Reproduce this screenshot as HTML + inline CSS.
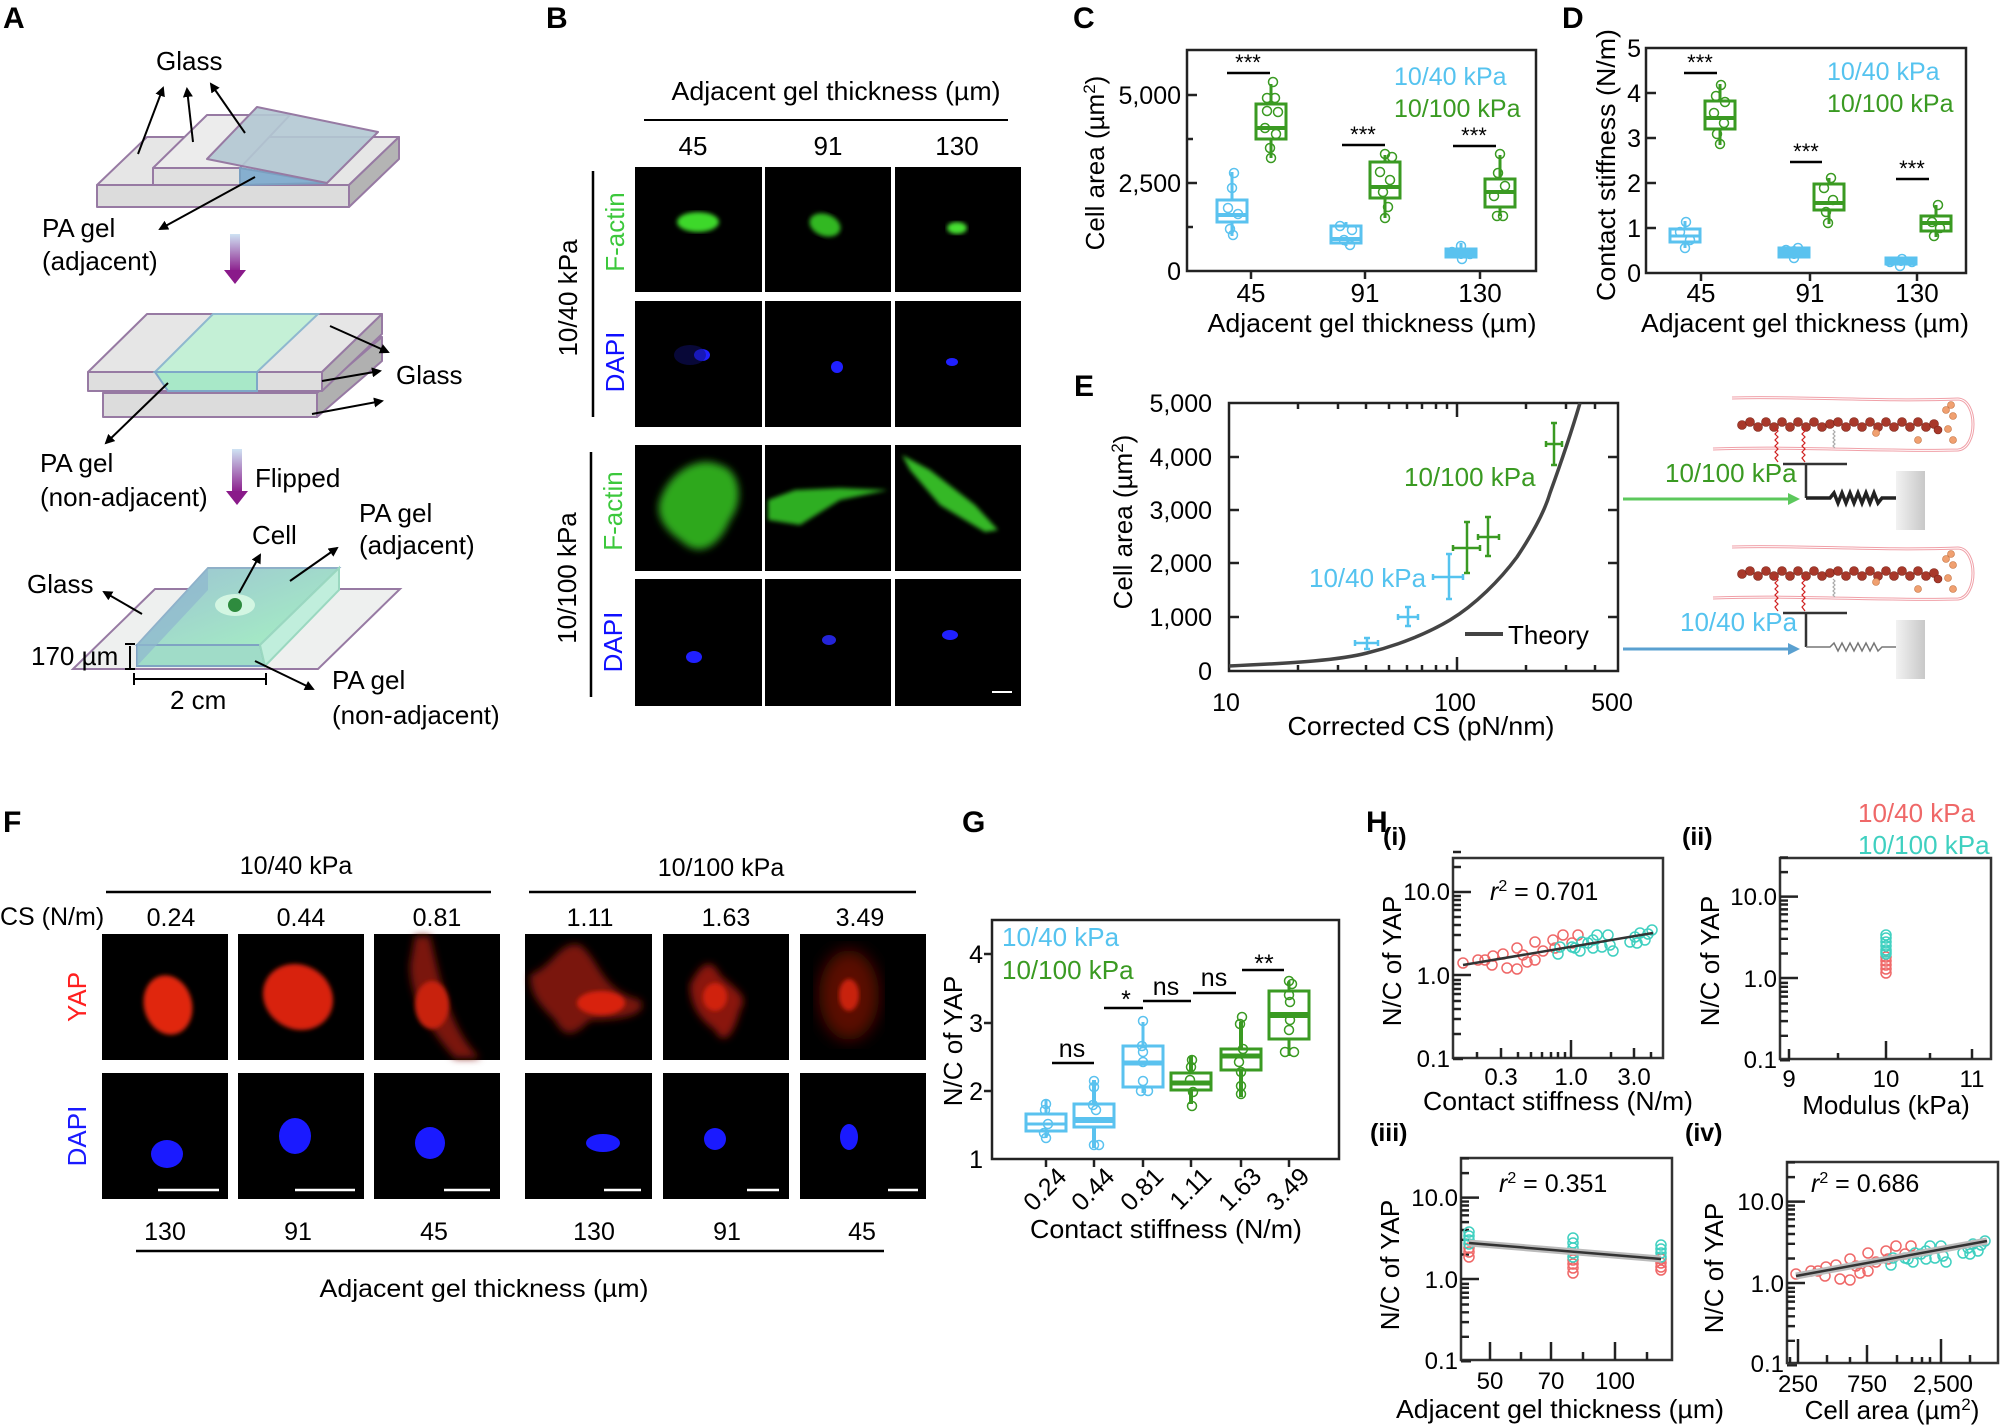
<!DOCTYPE html>
<html><head><meta charset="utf-8"><style>html,body{margin:0;padding:0;background:#fff}svg{display:block}</style></head>
<body>
<svg xmlns="http://www.w3.org/2000/svg" xmlns:xlink="http://www.w3.org/1999/xlink" width="2000" height="1427" viewBox="0 0 2000 1427" font-family="Liberation Sans, Arial, sans-serif">
<defs>
<marker id="ah" markerWidth="10" markerHeight="10" refX="8" refY="5" orient="auto" markerUnits="userSpaceOnUse"><path d="M0,0 L10,5 L0,10 z" fill="#000"/></marker>
<marker id="ahs" markerWidth="8" markerHeight="8" refX="7" refY="4" orient="auto" markerUnits="userSpaceOnUse"><path d="M0,0 L8,4 L0,8 z" fill="#000"/></marker>
<linearGradient id="pg" x1="0" y1="0" x2="0" y2="1"><stop offset="0" stop-color="#cfe3f3"/><stop offset="1" stop-color="#8a1a8a"/></linearGradient>
<linearGradient id="gel" x1="0" y1="0" x2="1" y2="1"><stop offset="0" stop-color="#9cc3d3"/><stop offset="1" stop-color="#a6f2c2"/></linearGradient>
<linearGradient id="wall" x1="0" y1="0" x2="1" y2="0"><stop offset="0" stop-color="#f2f2f2"/><stop offset="1" stop-color="#c8c8c8"/></linearGradient>
<filter id="b2"><feGaussianBlur stdDeviation="2"/></filter>
<filter id="b4"><feGaussianBlur stdDeviation="4"/></filter>
<filter id="b8"><feGaussianBlur stdDeviation="8"/></filter>
</defs>
<rect width="2000" height="1427" fill="#fff"/>

<!-- panel letters -->
<g font-weight="bold" font-size="30">
<text x="3" y="28">A</text><text x="546" y="28">B</text><text x="1073" y="28">C</text><text x="1562" y="28">D</text>
<text x="1074" y="396">E</text><text x="3" y="832">F</text><text x="962" y="832">G</text><text x="1366" y="832">H</text>
</g>

<!-- ============ A ============ -->
<g stroke="#977aa3" stroke-width="2" stroke-linejoin="round">
<polygon points="97,185 147,137 399,137 349,185" fill="#e6e6e6"/>
<polygon points="97,185 349,185 349,207 97,207" fill="#dcdcdc"/>
<polygon points="349,185 399,137 399,159 349,207" fill="#b4b4b4"/>
<polygon points="153,168 207,115 290,115 240,168" fill="#ececec"/>
<polygon points="153,168 240,168 240,185 153,185" fill="#e0e0e0"/>
<polygon points="240,168 327,183 240,185" fill="#86afcf" stroke="#7a9fc0"/>
<polygon points="207,159 257,107 378,132 327,183" fill="#b2c8d3" fill-opacity="0.9"/>
</g>
<g stroke="#000" stroke-width="2" fill="none" marker-end="url(#ah)">
<line x1="138" y1="154" x2="163" y2="88"/><line x1="193" y1="142" x2="187" y2="89"/><line x1="245" y1="133" x2="211" y2="84"/>
<line x1="255" y1="177" x2="160" y2="229"/>
</g>
<g font-size="26">
<text x="156" y="70">Glass</text>
<text x="42" y="237">PA gel</text><text x="42" y="270">(adjacent)</text>
</g>
<rect x="230" y="234" width="10" height="38" fill="url(#pg)"/><polygon points="224,270 246,270 235,284" fill="#8a1a8a"/>

<g stroke="#977aa3" stroke-width="2" stroke-linejoin="round">
<polygon points="103,393 163,337 382,337 317,393" fill="#e4e4e4"/>
<polygon points="103,393 317,393 317,417 103,417" fill="#dcdcdc"/>
<polygon points="317,393 382,337 382,361 317,417" fill="#b0b0b0"/>
<polygon points="88,372 147,314 382,314 322,372" fill="#e6e6e6"/>
<polygon points="88,372 322,372 322,391 88,391" fill="#dedede"/>
<polygon points="322,372 382,314 382,334 322,391" fill="#b4b4b4"/>
</g>
<polygon points="155,372 213,314 318,314 257,372" fill="#c4f0d6" stroke="#8fb8cf" stroke-width="2"/>
<polygon points="155,372 257,372 257,391 168,391" fill="#a8e8c8" stroke="#7fa8c8" stroke-width="2"/>
<g stroke="#000" stroke-width="2" fill="none" marker-end="url(#ah)">
<line x1="330" y1="326" x2="388" y2="352"/><line x1="322" y1="381" x2="380" y2="371"/><line x1="312" y1="414" x2="382" y2="401"/>
<line x1="168" y1="383" x2="106" y2="443"/>
</g>
<g font-size="26">
<text x="396" y="384">Glass</text>
<text x="40" y="472">PA gel</text><text x="40" y="506">(non-adjacent)</text>
<text x="255" y="487">Flipped</text>
</g>
<rect x="232" y="449" width="10" height="44" fill="url(#pg)"/><polygon points="226,491 248,491 237,505" fill="#8a1a8a"/>

<polygon points="73,669 155,589 400,589 318,669" fill="#eef0ef" stroke="#977aa3" stroke-width="2"/>
<polygon points="137,645 208,568 339,568 260,645" fill="url(#gel)" stroke="#8fb0c8" stroke-width="2"/>
<polygon points="137,645 260,645 265,666 137,666" fill="#a0dcc8" stroke="#7fa3c3" stroke-width="2"/>
<polygon points="260,645 339,568 339,590 265,666" fill="#c0eedc" stroke="#9ad8c0" stroke-width="2"/>
<polygon points="137,645 208,568 208,590 137,666" fill="#8fb7cf" opacity="0.7"/>
<ellipse cx="235" cy="605" rx="20" ry="11" fill="#d8f8e4" opacity="0.9"/>
<circle cx="235" cy="605" r="7" fill="#2e8b3e"/>
<g stroke="#000" stroke-width="2" fill="none">
<line x1="239" y1="593" x2="260" y2="555" marker-end="url(#ah)"/>
<line x1="290" y1="581" x2="337" y2="548" marker-end="url(#ah)"/>
<line x1="142" y1="614" x2="104" y2="592" marker-end="url(#ah)"/>
<line x1="255" y1="661" x2="313" y2="689" marker-end="url(#ah)"/>
<line x1="130" y1="646" x2="130" y2="668"/><line x1="125" y1="644" x2="135" y2="644"/><line x1="125" y1="669" x2="135" y2="669"/>
<line x1="134" y1="679" x2="266" y2="679"/><line x1="134" y1="673" x2="134" y2="685"/><line x1="266" y1="673" x2="266" y2="685"/>
</g>
<g font-size="26">
<text x="252" y="544">Cell</text>
<text x="359" y="522">PA gel</text><text x="359" y="554">(adjacent)</text>
<text x="27" y="593">Glass</text>
<text x="31" y="665">170 µm</text>
<text x="170" y="709">2 cm</text>
<text x="332" y="689">PA gel</text><text x="332" y="724">(non-adjacent)</text>
</g>

<!-- ============ B ============ -->
<text x="836" y="100" font-size="26" text-anchor="middle" textLength="329" lengthAdjust="spacingAndGlyphs">Adjacent gel thickness (µm)</text>
<line x1="644" y1="120" x2="1008" y2="120" stroke="#000" stroke-width="2"/>
<g font-size="26" text-anchor="middle"><text x="693" y="155">45</text><text x="828" y="155">91</text><text x="957" y="155">130</text></g>
<g fill="#000">
<rect x="635" y="167" width="127" height="125"/><rect x="765" y="167" width="126" height="125"/><rect x="895" y="167" width="126" height="125"/>
<rect x="635" y="301" width="127" height="126"/><rect x="765" y="301" width="126" height="126"/><rect x="895" y="301" width="126" height="126"/>
<rect x="635" y="445" width="127" height="126"/><rect x="765" y="445" width="126" height="126"/><rect x="895" y="445" width="126" height="126"/>
<rect x="635" y="579" width="127" height="127"/><rect x="765" y="579" width="126" height="127"/><rect x="895" y="579" width="126" height="127"/>
</g>
<ellipse cx="698" cy="222" rx="21" ry="10" fill="#3ed82a" filter="url(#b2)"/>
<ellipse cx="825" cy="225" rx="16" ry="11" fill="#32b824" filter="url(#b2)" transform="rotate(20 825 225)"/>
<ellipse cx="957" cy="228" rx="10" ry="6" fill="#46e030" filter="url(#b2)"/>
<ellipse cx="702" cy="355" rx="8" ry="6" fill="#2020ff"/><ellipse cx="690" cy="355" rx="16" ry="10" fill="#101070" opacity="0.5"/>
<ellipse cx="837" cy="367" rx="6" ry="6" fill="#2020ff"/><ellipse cx="952" cy="362" rx="6" ry="4" fill="#2020ff"/>
<path d="M660,500 C670,470 700,455 720,465 C740,470 745,500 730,520 C720,545 700,560 680,540 C665,530 655,515 660,500 z" fill="#2fa81e" filter="url(#b4)"/>
<path d="M768,500 L795,490 L840,488 L888,490 L840,500 L800,525 L768,520 z" fill="#2fae20" filter="url(#b2)"/>
<path d="M902,455 L930,470 L975,505 L998,530 L985,532 L940,505 L910,470 z" fill="#36b826" filter="url(#b2)"/>
<ellipse cx="694" cy="657" rx="8" ry="6" fill="#2020ff"/><ellipse cx="829" cy="640" rx="7" ry="5" fill="#2424d8"/><ellipse cx="950" cy="635" rx="8" ry="5" fill="#2020ff"/>
<line x1="992" y1="692" x2="1012" y2="692" stroke="#fff" stroke-width="2"/>
<line x1="593" y1="171" x2="593" y2="417" stroke="#000" stroke-width="2.5"/>
<line x1="591" y1="452" x2="591" y2="697" stroke="#000" stroke-width="2.5"/>
<g font-size="26" text-anchor="middle">
<text transform="translate(577,298) rotate(-90)" >10/40 kPa</text>
<text transform="translate(624,232) rotate(-90)" fill="#3cc83c">F-actin</text>
<text transform="translate(624,362) rotate(-90)" fill="#1010ff">DAPI</text>
<text transform="translate(576,578) rotate(-90)">10/100 kPa</text>
<text transform="translate(622,511) rotate(-90)" fill="#3cc83c">F-actin</text>
<text transform="translate(622,642) rotate(-90)" fill="#1010ff">DAPI</text>
</g>

<!-- ============ C ============ -->
<rect x="1187" y="50" width="349" height="221" fill="none" stroke="#222" stroke-width="2.5"/>
<g stroke="#222" stroke-width="2.5"><line x1="1187" y1="95" x2="1197" y2="95"/><line x1="1187" y1="139" x2="1193" y2="139"/><line x1="1187" y1="183" x2="1197" y2="183"/><line x1="1187" y1="227" x2="1193" y2="227"/>
<line x1="1251" y1="271" x2="1251" y2="279"/><line x1="1365" y1="271" x2="1365" y2="279"/><line x1="1480" y1="271" x2="1480" y2="279"/></g>
<g font-size="25" text-anchor="end"><text x="1181" y="104">5,000</text><text x="1181" y="192">2,500</text><text x="1181" y="280">0</text></g>
<g font-size="26" text-anchor="middle"><text x="1251" y="302">45</text><text x="1365" y="302">91</text><text x="1480" y="302">130</text>
<text x="1372" y="332" textLength="329" lengthAdjust="spacingAndGlyphs">Adjacent gel thickness (µm)</text>
<text transform="translate(1104,163) rotate(-90)">Cell area (µm<tspan font-size="17" dy="-9">2</tspan><tspan dy="9">)</tspan></text></g>
<g font-size="25"><text x="1394" y="85" fill="#55c3ef">10/40 kPa</text><text x="1394" y="117" fill="#3a9a22">10/100 kPa</text></g>
<g fill="none" stroke-width="3">
<g stroke="#5ac2ef"><line x1="1232" y1="172" x2="1232" y2="236"/><rect x="1217" y="200" width="30" height="22" fill="#fff"/><line x1="1217" y1="215" x2="1247" y2="215" stroke-width="4"/>
<line x1="1346" y1="222" x2="1346" y2="246"/><rect x="1331" y="226" width="30" height="17" fill="#fff"/><line x1="1331" y1="239" x2="1361" y2="239" stroke-width="4"/>
<line x1="1461" y1="243" x2="1461" y2="259"/><rect x="1446" y="249" width="30" height="8" fill="#5ac2ef"/></g>
<g stroke="#3a9a22"><line x1="1271" y1="84" x2="1271" y2="158"/><rect x="1256" y="104" width="30" height="35" fill="#fff"/><line x1="1256" y1="128" x2="1286" y2="128" stroke-width="4"/>
<line x1="1385" y1="155" x2="1385" y2="218"/><rect x="1370" y="162" width="30" height="36" fill="#fff"/><line x1="1370" y1="187" x2="1400" y2="187" stroke-width="4"/>
<line x1="1500" y1="155" x2="1500" y2="216"/><rect x="1485" y="179" width="30" height="28" fill="#fff"/><line x1="1485" y1="192" x2="1515" y2="192" stroke-width="4"/></g>
</g>
<g fill="none" stroke-width="1.5">
<g stroke="#5ac2ef"><circle cx="1234" cy="173" r="4.5"/><circle cx="1232" cy="188" r="4.5"/><circle cx="1228" cy="208" r="4.5"/><circle cx="1238" cy="214" r="4.5"/><circle cx="1230" cy="229" r="4.5"/><circle cx="1233" cy="235" r="4.5"/>
<circle cx="1340" cy="226" r="4.5"/><circle cx="1352" cy="230" r="4.5"/><circle cx="1344" cy="240" r="4.5"/><circle cx="1350" cy="245" r="4.5"/>
<circle cx="1452" cy="252" r="4.5"/><circle cx="1461" cy="246" r="4.5"/><circle cx="1470" cy="254" r="4.5"/><circle cx="1462" cy="259" r="4.5"/></g>
<g stroke="#3a9a22"><circle cx="1273" cy="82" r="4.5"/><circle cx="1267" cy="98" r="4.5"/><circle cx="1275" cy="98" r="4.5"/><circle cx="1267" cy="111" r="4.5"/><circle cx="1278" cy="112" r="4.5"/><circle cx="1265" cy="128" r="4.5"/><circle cx="1276" cy="134" r="4.5"/><circle cx="1270" cy="148" r="4.5"/><circle cx="1271" cy="158" r="4.5"/>
<circle cx="1385" cy="154" r="4.5"/><circle cx="1392" cy="157" r="4.5"/><circle cx="1380" cy="172" r="4.5"/><circle cx="1390" cy="180" r="4.5"/><circle cx="1383" cy="192" r="4.5"/><circle cx="1388" cy="207" r="4.5"/><circle cx="1385" cy="218" r="4.5"/>
<circle cx="1500" cy="154" r="4.5"/><circle cx="1498" cy="173" r="4.5"/><circle cx="1505" cy="186" r="4.5"/><circle cx="1494" cy="196" r="4.5"/><circle cx="1497" cy="216" r="4.5"/><circle cx="1503" cy="216" r="4.5"/></g>
</g>
<g stroke="#000" stroke-width="2.5"><line x1="1227" y1="73" x2="1270" y2="73"/><line x1="1342" y1="145" x2="1385" y2="145"/><line x1="1453" y1="146" x2="1496" y2="146"/></g>
<g font-size="22" text-anchor="middle"><text x="1248" y="70">***</text><text x="1363" y="142">***</text><text x="1474" y="143">***</text></g>

<!-- ============ D ============ -->
<rect x="1646" y="48" width="320" height="225" fill="none" stroke="#222" stroke-width="2.5"/>
<g stroke="#222" stroke-width="2.5"><line x1="1646" y1="93" x2="1656" y2="93"/><line x1="1646" y1="138" x2="1656" y2="138"/><line x1="1646" y1="183" x2="1656" y2="183"/><line x1="1646" y1="228" x2="1656" y2="228"/>
<line x1="1701" y1="273" x2="1701" y2="281"/><line x1="1810" y1="273" x2="1810" y2="281"/><line x1="1917" y1="273" x2="1917" y2="281"/></g>
<g font-size="25" text-anchor="end"><text x="1641" y="57">5</text><text x="1641" y="102">4</text><text x="1641" y="147">3</text><text x="1641" y="192">2</text><text x="1641" y="237">1</text><text x="1641" y="282">0</text></g>
<g font-size="26" text-anchor="middle"><text x="1701" y="302">45</text><text x="1810" y="302">91</text><text x="1917" y="302">130</text>
<text x="1805" y="332" textLength="328" lengthAdjust="spacingAndGlyphs">Adjacent gel thickness (µm)</text>
<text transform="translate(1615,165) rotate(-90)" textLength="272" lengthAdjust="spacingAndGlyphs">Contact stiffness (N/m)</text></g>
<g font-size="25"><text x="1827" y="80" fill="#55c3ef">10/40 kPa</text><text x="1827" y="112" fill="#3a9a22">10/100 kPa</text></g>
<g fill="none" stroke-width="3">
<g stroke="#5ac2ef"><line x1="1685" y1="221" x2="1685" y2="248"/><rect x="1670" y="229" width="30" height="13" fill="#fff"/><line x1="1670" y1="236" x2="1700" y2="236"/>
<line x1="1794" y1="246" x2="1794" y2="259"/><rect x="1779" y="248" width="30" height="9" fill="#5ac2ef"/>
<line x1="1901" y1="257" x2="1901" y2="266"/><rect x="1886" y="258" width="30" height="6" fill="#5ac2ef"/></g>
<g stroke="#3a9a22"><line x1="1720" y1="84" x2="1720" y2="145"/><rect x="1705" y="101" width="30" height="28" fill="#fff"/><line x1="1705" y1="118" x2="1735" y2="118" stroke-width="4"/>
<line x1="1829" y1="178" x2="1829" y2="224"/><rect x="1814" y="184" width="30" height="26" fill="#fff"/><line x1="1814" y1="203" x2="1844" y2="203" stroke-width="4"/>
<line x1="1936" y1="205" x2="1936" y2="237"/><rect x="1921" y="216" width="30" height="15" fill="#fff"/><line x1="1921" y1="223" x2="1951" y2="223" stroke-width="4"/></g>
</g>
<g fill="none" stroke-width="1.5">
<g stroke="#5ac2ef"><circle cx="1686" cy="222" r="4.5"/><circle cx="1680" cy="232" r="4.5"/><circle cx="1690" cy="240" r="4.5"/><circle cx="1685" cy="248" r="4.5"/>
<circle cx="1786" cy="250" r="4.5"/><circle cx="1798" cy="248" r="4.5"/><circle cx="1794" cy="258" r="4.5"/><circle cx="1890" cy="262" r="4.5"/><circle cx="1902" cy="259" r="4.5"/><circle cx="1912" cy="262" r="4.5"/><circle cx="1900" cy="266" r="4.5"/></g>
<g stroke="#3a9a22"><circle cx="1721" cy="85" r="4.5"/><circle cx="1716" cy="96" r="4.5"/><circle cx="1725" cy="102" r="4.5"/><circle cx="1714" cy="113" r="4.5"/><circle cx="1724" cy="123" r="4.5"/><circle cx="1717" cy="134" r="4.5"/><circle cx="1720" cy="144" r="4.5"/>
<circle cx="1831" cy="178" r="4.5"/><circle cx="1824" cy="188" r="4.5"/><circle cx="1833" cy="200" r="4.5"/><circle cx="1826" cy="212" r="4.5"/><circle cx="1828" cy="223" r="4.5"/>
<circle cx="1938" cy="205" r="4.5"/><circle cx="1932" cy="222" r="4.5"/><circle cx="1940" cy="228" r="4.5"/><circle cx="1934" cy="236" r="4.5"/></g>
</g>
<g stroke="#000" stroke-width="2.5"><line x1="1684" y1="73" x2="1717" y2="73"/><line x1="1790" y1="162" x2="1822" y2="162"/><line x1="1896" y1="179" x2="1929" y2="179"/></g>
<g font-size="22" text-anchor="middle"><text x="1700" y="70">***</text><text x="1806" y="159">***</text><text x="1912" y="176">***</text></g>

<!-- ============ E ============ -->
<rect x="1229" y="403" width="389" height="268" fill="none" stroke="#222" stroke-width="2.5"/>
<g stroke="#222" stroke-width="2.5">
<line x1="1229" y1="457" x2="1239" y2="457"/><line x1="1229" y1="510" x2="1239" y2="510"/><line x1="1229" y1="563" x2="1239" y2="563"/><line x1="1229" y1="617" x2="1239" y2="617"/>
<line x1="1618" y1="457" x2="1608" y2="457"/><line x1="1618" y1="510" x2="1608" y2="510"/><line x1="1618" y1="563" x2="1608" y2="563"/><line x1="1618" y1="617" x2="1608" y2="617"/>
<line x1="1457" y1="671" x2="1457" y2="657"/><line x1="1457" y1="403" x2="1457" y2="417"/>
<path d="M1298,671v-6M1338,671v-6M1366,671v-6M1389,671v-6M1407,671v-6M1422,671v-6M1436,671v-6M1447,671v-6M1526,671v-6M1566,671v-6M1595,671v-6M1298,403v6M1338,403v6M1366,403v6M1389,403v6M1407,403v6M1422,403v6M1436,403v6M1447,403v6M1526,403v6M1566,403v6M1595,403v6" fill="none"/>
</g>
<g font-size="25" text-anchor="end"><text x="1212" y="412">5,000</text><text x="1212" y="466">4,000</text><text x="1212" y="519">3,000</text><text x="1212" y="572">2,000</text><text x="1212" y="626">1,000</text><text x="1212" y="680">0</text></g>
<g font-size="25" text-anchor="middle"><text x="1226" y="711">10</text><text x="1455" y="711">100</text><text x="1612" y="711">500</text></g>
<text x="1421" y="735" font-size="26" text-anchor="middle" textLength="267" lengthAdjust="spacingAndGlyphs">Corrected CS (pN/nm)</text>
<text transform="translate(1132,522) rotate(-90)" font-size="26" text-anchor="middle">Cell area (µm<tspan font-size="17" dy="-9">2</tspan><tspan dy="9">)</tspan></text>
<path d="M1229,666 C1297,663 1340,660 1367,653 C1400,645 1430,632 1450,620 C1475,605 1500,580 1517,557 C1535,530 1545,510 1550,493 C1562,460 1572,430 1580,403" fill="none" stroke="#444" stroke-width="3.5"/>
<g stroke="#55c3ef" stroke-width="2.5" fill="none">
<path d="M1355,643H1378M1367,638V649M1355,640V646M1378,640V646M1364,638H1370M1364,649H1370"/>
<path d="M1398,617H1418M1408,607V626M1398,614V620M1418,614V620M1405,607H1411M1405,626H1411"/>
<path d="M1433,577H1463M1449,554V599M1433,574V580M1463,574V580M1446,554H1452M1446,599H1452"/>
</g>
<g stroke="#3a9a22" stroke-width="2.5" fill="none">
<path d="M1453,548H1480M1467,522V573M1453,545V551M1480,545V551M1464,522H1470M1464,573H1470"/>
<path d="M1478,537H1499M1488,517V556M1478,534V540M1499,534V540M1485,517H1491M1485,556H1491"/>
<path d="M1546,444H1562M1554,423V465M1546,441V447M1562,441V447M1551,423H1557M1551,465H1557"/>
</g>
<g font-size="26"><text x="1404" y="486" fill="#3a9a22">10/100 kPa</text><text x="1309" y="587" fill="#55c3ef">10/40 kPa</text><text x="1508" y="644">Theory</text></g>
<line x1="1465" y1="634" x2="1503" y2="634" stroke="#444" stroke-width="4"/>

<!-- cartoons -->
<g id="cart">
<path d="M1732,398 C1800,396 1880,402 1958,399 C1978,400 1978,448 1958,450 C1880,452 1800,446 1713,449" fill="none" stroke="#f0a0a8" stroke-width="3"/>
<path d="M1732,398 C1800,396 1880,402 1958,399 C1978,400 1978,448 1958,450 C1880,452 1800,446 1713,449" fill="none" stroke="#fff" stroke-width="1"/>
<g fill="#a8382a" stroke="#7a2418" stroke-width="0.6">
<circle cx="1742" cy="425" r="4.5"/><circle cx="1750" cy="422" r="4.5"/><circle cx="1758" cy="427" r="4.5"/><circle cx="1766" cy="422" r="4.5"/><circle cx="1774" cy="427" r="4.5"/><circle cx="1782" cy="422" r="4.5"/><circle cx="1790" cy="427" r="4.5"/><circle cx="1798" cy="422" r="4.5"/><circle cx="1806" cy="427" r="4.5"/><circle cx="1814" cy="422" r="4.5"/><circle cx="1822" cy="427" r="4.5"/><circle cx="1830" cy="424" r="4.5"/><circle cx="1838" cy="422" r="4.5"/><circle cx="1846" cy="427" r="4.5"/><circle cx="1854" cy="422" r="4.5"/><circle cx="1862" cy="427" r="4.5"/><circle cx="1870" cy="422" r="4.5"/><circle cx="1878" cy="427" r="4.5"/><circle cx="1886" cy="422" r="4.5"/><circle cx="1894" cy="427" r="4.5"/><circle cx="1902" cy="422" r="4.5"/><circle cx="1910" cy="427" r="4.5"/><circle cx="1918" cy="422" r="4.5"/><circle cx="1926" cy="427" r="4.5"/><circle cx="1934" cy="424" r="4.5"/><circle cx="1938" cy="430" r="4"/>
</g>
<g fill="#f0a070" stroke="#c07040" stroke-width="0.6"><circle cx="1946" cy="410" r="3.5"/><circle cx="1951" cy="405" r="3.5"/><circle cx="1953" cy="416" r="3.5"/><circle cx="1948" cy="429" r="3.5"/><circle cx="1953" cy="440" r="3.5"/><circle cx="1918" cy="440" r="3.5"/><circle cx="1876" cy="433" r="3.5"/></g>
<path d="M1775,428 l3,3 -3,3 3,3 -3,3 3,3 -3,3 3,3 -3,3 3,3 -3,3 3,4 M1802,428 l3,3 -3,3 3,3 -3,3 3,3 -3,3 3,3 -3,3 3,3 -3,3 3,4" fill="none" stroke="#d02020" stroke-width="1.2"/>
<path d="M1833,430 l2,2 -2,2 2,2 -2,2 2,2 -2,2 2,2 -2,2 2,2" fill="none" stroke="#aaa" stroke-width="1.2"/>
<line x1="1783" y1="464" x2="1847" y2="464" stroke="#333" stroke-width="2.5"/>
<line x1="1806" y1="464" x2="1806" y2="498" stroke="#333" stroke-width="2.5"/>
<rect x="1896" y="471" width="29" height="59" fill="url(#wall)"/>
</g>
<use xlink:href="#cart" href="#cart" transform="translate(0,149)"/>
<path d="M1806,498H1830 l4,-5 4,10 4,-10 4,10 4,-10 4,10 4,-10 4,10 4,-10 4,10 4,-10 4,10 4,-5 H1896" fill="none" stroke="#222" stroke-width="3.5"/>
<path d="M1806,647H1830 l4,-4 4,8 4,-8 4,8 4,-8 4,8 4,-8 4,8 4,-8 4,8 4,-8 4,8 4,-4 H1896" fill="none" stroke="#777" stroke-width="1.5"/>
<line x1="1623" y1="499" x2="1790" y2="499" stroke="#5cc85c" stroke-width="3"/><polygon points="1788,493 1800,499 1788,505" fill="#5cc85c"/>
<line x1="1623" y1="649" x2="1790" y2="649" stroke="#5aa0d0" stroke-width="3"/><polygon points="1788,643 1800,649 1788,655" fill="#5aa0d0"/>
<g font-size="26"><text x="1665" y="482" fill="#3a9a22">10/100 kPa</text><text x="1680" y="631" fill="#55c3ef">10/40 kPa</text></g>

<!-- ============ F ============ -->
<g font-size="25" text-anchor="middle">
<text x="296" y="874">10/40 kPa</text><text x="721" y="876">10/100 kPa</text>
<text x="171" y="926">0.24</text><text x="301" y="926">0.44</text><text x="437" y="926">0.81</text><text x="590" y="926">1.11</text><text x="726" y="926">1.63</text><text x="860" y="926">3.49</text>
<text x="165" y="1240">130</text><text x="298" y="1240">91</text><text x="434" y="1240">45</text><text x="594" y="1240">130</text><text x="727" y="1240">91</text><text x="862" y="1240">45</text>
<text x="484" y="1297" textLength="329" lengthAdjust="spacingAndGlyphs">Adjacent gel thickness (µm)</text>
</g>
<text x="0" y="925" font-size="25">CS (N/m)</text>
<g stroke="#000" stroke-width="2.5"><line x1="106" y1="892" x2="491" y2="892"/><line x1="529" y1="892" x2="916" y2="892"/><line x1="136" y1="1251" x2="884" y2="1251"/></g>
<g font-size="26" text-anchor="middle"><text transform="translate(86,997) rotate(-90)" fill="#ff2020">YAP</text><text transform="translate(86,1136) rotate(-90)" fill="#1a1aff">DAPI</text></g>
<g fill="#000">
<rect x="102" y="934" width="126" height="126"/><rect x="238" y="934" width="126" height="126"/><rect x="374" y="934" width="126" height="126"/><rect x="525" y="934" width="127" height="126"/><rect x="663" y="934" width="126" height="126"/><rect x="800" y="934" width="126" height="126"/>
<rect x="102" y="1073" width="126" height="126"/><rect x="238" y="1073" width="126" height="126"/><rect x="374" y="1073" width="126" height="126"/><rect x="525" y="1073" width="127" height="126"/><rect x="663" y="1073" width="126" height="126"/><rect x="800" y="1073" width="126" height="126"/>
</g>
<ellipse cx="168" cy="1005" rx="24" ry="30" fill="#e02810" filter="url(#b2)" transform="rotate(-15 168 1005)"/>
<ellipse cx="298" cy="997" rx="36" ry="32" fill="#d82410" filter="url(#b2)" transform="rotate(30 298 997)"/>
<path d="M415,936 L430,936 C440,980 450,1030 480,1058 L455,1058 C430,1030 410,1000 410,965 z" fill="#7a1408" filter="url(#b4)"/>
<ellipse cx="432" cy="1005" rx="17" ry="24" fill="#c82010" filter="url(#b2)"/>
<path d="M530,975 C555,965 560,940 580,945 C600,960 600,990 640,1000 C650,1015 620,1020 590,1020 C575,1035 565,1040 555,1020 C540,1005 530,995 530,975 z" fill="#7a1408" filter="url(#b4)"/>
<ellipse cx="601" cy="1003" rx="24" ry="12" fill="#d82410" filter="url(#b2)"/>
<path d="M690,985 C700,965 710,955 720,975 C735,990 750,995 740,1010 C735,1030 725,1050 715,1030 C700,1020 690,1005 690,985 z" fill="#8a1608" filter="url(#b4)"/>
<ellipse cx="715" cy="997" rx="12" ry="14" fill="#d02410" filter="url(#b2)"/>
<ellipse cx="849" cy="995" rx="30" ry="45" fill="#5a0c04" filter="url(#b8)"/>
<ellipse cx="849" cy="995" rx="10" ry="16" fill="#c82010" filter="url(#b2)"/>
<ellipse cx="167" cy="1154" rx="16" ry="14" fill="#1a1aff"/>
<ellipse cx="295" cy="1136" rx="16" ry="18" fill="#1a1aff"/>
<ellipse cx="430" cy="1143" rx="15" ry="16" fill="#1a1aff"/>
<ellipse cx="603" cy="1143" rx="17" ry="9" fill="#1a1aff"/>
<ellipse cx="715" cy="1139" rx="11" ry="11" fill="#1a1aff"/>
<ellipse cx="849" cy="1137" rx="9" ry="13" fill="#1a1aff"/>
<g stroke="#fff" stroke-width="2.5"><line x1="158" y1="1190" x2="219" y2="1190"/><line x1="295" y1="1190" x2="355" y2="1190"/><line x1="444" y1="1190" x2="490" y2="1190"/><line x1="604" y1="1190" x2="641" y2="1190"/><line x1="747" y1="1190" x2="779" y2="1190"/><line x1="888" y1="1190" x2="918" y2="1190"/></g>

<!-- ============ G ============ -->
<rect x="992" y="920" width="347" height="239" fill="none" stroke="#222" stroke-width="2.5"/>
<g stroke="#222" stroke-width="2.5"><line x1="992" y1="954" x2="984" y2="954"/><line x1="992" y1="1023" x2="984" y2="1023"/><line x1="992" y1="1091" x2="984" y2="1091"/>
<path d="M1046,1159v8M1094,1159v8M1143,1159v8M1191,1159v8M1241,1159v8M1289,1159v8"/></g>
<g font-size="25" text-anchor="end"><text x="983" y="963">4</text><text x="983" y="1032">3</text><text x="983" y="1100">2</text><text x="983" y="1168">1</text></g>
<g font-size="25" text-anchor="end">
<text transform="translate(1068,1178) rotate(-45)">0.24</text><text transform="translate(1116,1178) rotate(-45)">0.44</text><text transform="translate(1165,1178) rotate(-45)">0.81</text><text transform="translate(1213,1178) rotate(-45)">1.11</text><text transform="translate(1263,1178) rotate(-45)">1.63</text><text transform="translate(1311,1178) rotate(-45)">3.49</text>
</g>
<text x="1166" y="1238" font-size="26" text-anchor="middle" textLength="272" lengthAdjust="spacingAndGlyphs">Contact stiffness (N/m)</text>
<text transform="translate(962,1041) rotate(-90)" font-size="26" text-anchor="middle">N/C of YAP</text>
<g font-size="26"><text x="1002" y="946" fill="#55c3ef">10/40 kPa</text><text x="1002" y="979" fill="#3a9a22">10/100 kPa</text></g>
<g fill="none" stroke-width="3">
<g stroke="#5ac2ef"><line x1="1046" y1="1100" x2="1046" y2="1138"/><rect x="1026" y="1114" width="40" height="17" fill="#fff"/><line x1="1026" y1="1124" x2="1066" y2="1124"/>
<line x1="1094" y1="1080" x2="1094" y2="1148" stroke-width="4"/><rect x="1074" y="1104" width="40" height="23" fill="#fff"/><line x1="1074" y1="1120" x2="1114" y2="1120" stroke-width="6"/>
<line x1="1143" y1="1022" x2="1143" y2="1093"/><rect x="1123" y="1046" width="40" height="41" fill="#fff"/><line x1="1123" y1="1063" x2="1163" y2="1063" stroke-width="5"/></g>
<g stroke="#3a9a22"><line x1="1191" y1="1056" x2="1191" y2="1104" stroke-width="4"/><rect x="1171" y="1073" width="40" height="17" fill="#fff"/><line x1="1171" y1="1083" x2="1211" y2="1083" stroke-width="5"/>
<line x1="1241" y1="1022" x2="1241" y2="1097" stroke-width="4"/><rect x="1221" y="1049" width="40" height="21" fill="#fff"/><line x1="1221" y1="1056" x2="1261" y2="1056" stroke-width="5"/>
<line x1="1289" y1="981" x2="1289" y2="1056"/><rect x="1269" y="991" width="40" height="48" fill="#fff"/><line x1="1269" y1="1015" x2="1309" y2="1015" stroke-width="6"/></g>
</g>
<g fill="none" stroke-width="1.5">
<g stroke="#5ac2ef"><circle cx="1046" cy="1104" r="4.5"/><circle cx="1045" cy="1110" r="4.5"/><circle cx="1048" cy="1124" r="4.5"/><circle cx="1044" cy="1133" r="4.5"/><circle cx="1046" cy="1138" r="4.5"/>
<circle cx="1094" cy="1081" r="4.5"/><circle cx="1094" cy="1087" r="4.5"/><circle cx="1093" cy="1105" r="4.5"/><circle cx="1096" cy="1110" r="4.5"/><circle cx="1094" cy="1145" r="4.5"/><circle cx="1099" cy="1145" r="4.5"/>
<circle cx="1143" cy="1021" r="4.5"/><circle cx="1142" cy="1046" r="4.5"/><circle cx="1143" cy="1052" r="4.5"/><circle cx="1143" cy="1062" r="4.5"/><circle cx="1143" cy="1081" r="4.5"/><circle cx="1141" cy="1091" r="4.5"/><circle cx="1148" cy="1091" r="4.5"/></g>
<g stroke="#3a9a22"><circle cx="1192" cy="1060" r="4.5"/><circle cx="1191" cy="1067" r="4.5"/><circle cx="1190" cy="1080" r="4.5"/><circle cx="1193" cy="1092" r="4.5"/><circle cx="1192" cy="1106" r="4.5"/>
<circle cx="1242" cy="1017" r="4.5"/><circle cx="1240" cy="1024" r="4.5"/><circle cx="1243" cy="1049" r="4.5"/><circle cx="1239" cy="1062" r="4.5"/><circle cx="1241" cy="1072" r="4.5"/><circle cx="1241" cy="1086" r="4.5"/><circle cx="1241" cy="1094" r="4.5"/>
<circle cx="1289" cy="981" r="4.5"/><circle cx="1292" cy="984" r="4.5"/><circle cx="1289" cy="995" r="4.5"/><circle cx="1290" cy="1002" r="4.5"/><circle cx="1290" cy="1020" r="4.5"/><circle cx="1289" cy="1030" r="4.5"/><circle cx="1285" cy="1052" r="4.5"/><circle cx="1294" cy="1052" r="4.5"/></g>
</g>
<g stroke="#000" stroke-width="2.5"><line x1="1052" y1="1063" x2="1094" y2="1063"/><line x1="1104" y1="1008" x2="1143" y2="1008"/><line x1="1143" y1="1001" x2="1191" y2="1001"/><line x1="1193" y1="993" x2="1236" y2="993"/><line x1="1242" y1="970" x2="1284" y2="970"/></g>
<g font-size="25" text-anchor="middle"><text x="1072" y="1057">ns</text><text x="1126" y="1008">*</text><text x="1166" y="995">ns</text><text x="1214" y="986">ns</text><text x="1264" y="972">**</text></g>

<!-- ============ H ============ -->
<defs>
<g id="ylog" stroke="#222" stroke-width="2.5">
<path d="M0,0h18M0,-83h18M0,84h10M0,-25h8M0,-40h8M0,-50h8M0,-58h8M0,-65h8M0,-70h8M0,-75h8M0,-79h8M0,59h8M0,44h8M0,34h8M0,26h8M0,19h8M0,14h8M0,9h8M0,5h8M0,-108h8M0,-123h8"/>
</g>
<g id="pts1" fill="none" stroke-width="1.5">
<g stroke="#ef6868"><circle cx="1463" cy="963" r="5"/><circle cx="1478" cy="960" r="5"/><circle cx="1485" cy="960" r="5"/><circle cx="1493" cy="956" r="5"/><circle cx="1492" cy="965" r="5"/><circle cx="1503" cy="954" r="5"/><circle cx="1507" cy="968" r="5"/><circle cx="1517" cy="948" r="5"/><circle cx="1517" cy="969" r="5"/><circle cx="1527" cy="962" r="5"/><circle cx="1535" cy="942" r="5"/><circle cx="1535" cy="960" r="5"/><circle cx="1543" cy="951" r="5"/><circle cx="1553" cy="940" r="5"/><circle cx="1563" cy="935" r="5"/><circle cx="1578" cy="935" r="5"/><circle cx="1572" cy="943" r="5"/><circle cx="1555" cy="948" r="5"/><circle cx="1523" cy="955" r="5"/></g>
<g stroke="#3fd0c0"><circle cx="1560" cy="947" r="5"/><circle cx="1558" cy="954" r="5"/><circle cx="1575" cy="948" r="5"/><circle cx="1580" cy="951" r="5"/><circle cx="1588" cy="943" r="5"/><circle cx="1593" cy="940" r="5"/><circle cx="1597" cy="935" r="5"/><circle cx="1602" cy="947" r="5"/><circle cx="1608" cy="935" r="5"/><circle cx="1610" cy="945" r="5"/><circle cx="1613" cy="951" r="5"/><circle cx="1630" cy="942" r="5"/><circle cx="1635" cy="937" r="5"/><circle cx="1640" cy="933" r="5"/><circle cx="1645" cy="940" r="5"/><circle cx="1652" cy="930" r="5"/><circle cx="1637" cy="943" r="5"/><circle cx="1593" cy="948" r="5"/><circle cx="1572" cy="947" r="5"/><circle cx="1582" cy="942" r="5"/><circle cx="1648" cy="934" r="5"/></g>
</g>
</defs>
<g font-size="25" font-weight="bold"><text x="1383" y="845">(i)</text><text x="1682" y="845">(ii)</text><text x="1370" y="1141">(iii)</text><text x="1685" y="1141">(iv)</text></g>
<g font-size="26"><text x="1858" y="822" fill="#ef6868">10/40 kPa</text><text x="1858" y="854" fill="#3fd0c0">10/100 kPa</text></g>

<!-- (i) -->
<rect x="1453" y="858" width="210" height="200" fill="none" stroke="#333" stroke-width="2.5"/>
<use xlink:href="#ylog" href="#ylog" transform="translate(1453,975)"/>
<g stroke="#222" stroke-width="2.5"><path d="M1571,1058v-18M1501,1058v-10M1634,1058v-10M1477,1058v-6M1518,1058v-6M1531,1058v-6M1542,1058v-6M1551,1058v-6M1558,1058v-6M1565,1058v-6M1611,1058v-6M1651,1058v-6"/></g>
<g font-size="24" text-anchor="end"><text x="1450" y="900">10.0</text><text x="1450" y="984">1.0</text><text x="1450" y="1067">0.1</text></g>
<g font-size="24" text-anchor="middle"><text x="1501" y="1085">0.3</text><text x="1571" y="1085">1.0</text><text x="1634" y="1085">3.0</text></g>
<text x="1558" y="1110" font-size="26" text-anchor="middle" textLength="270" lengthAdjust="spacingAndGlyphs">Contact stiffness (N/m)</text>
<text transform="translate(1401,961) rotate(-90)" font-size="26" text-anchor="middle">N/C of YAP</text>
<text x="1490" y="900" font-size="25"><tspan font-style="italic">r</tspan><tspan font-size="16" dy="-9">2</tspan><tspan dy="9"> = 0.701</tspan></text>
<use xlink:href="#pts1" href="#pts1"/>
<line x1="1463" y1="965" x2="1653" y2="933" stroke="#333" stroke-width="2.5"/>

<!-- (ii) -->
<rect x="1780" y="858" width="211" height="201" fill="none" stroke="#333" stroke-width="2.5"/>
<use xlink:href="#ylog" href="#ylog" transform="translate(1780,978) scale(1,0.98)"/>
<g stroke="#222" stroke-width="2.5"><path d="M1789,1059v-10M1886,1059v-18M1972,1059v-10M1838,1059v-6M1930,1059v-6"/></g>
<g font-size="24" text-anchor="end"><text x="1777" y="905">10.0</text><text x="1777" y="987">1.0</text><text x="1777" y="1068">0.1</text></g>
<g font-size="24" text-anchor="middle"><text x="1789" y="1087">9</text><text x="1886" y="1087">10</text><text x="1972" y="1087">11</text></g>
<text x="1886" y="1114" font-size="26" text-anchor="middle">Modulus (kPa)</text>
<text transform="translate(1719,961) rotate(-90)" font-size="26" text-anchor="middle">N/C of YAP</text>
<g fill="none" stroke-width="1.5">
<g stroke="#ef6868"><circle cx="1886" cy="973" r="5"/><circle cx="1886" cy="969" r="5"/><circle cx="1886" cy="965" r="5"/><circle cx="1886" cy="961" r="5"/><circle cx="1886" cy="957" r="5"/></g>
<g stroke="#3fd0c0"><circle cx="1886" cy="954" r="5"/><circle cx="1886" cy="950" r="5"/><circle cx="1886" cy="946" r="5"/><circle cx="1886" cy="942" r="5"/><circle cx="1886" cy="938" r="5"/><circle cx="1886" cy="935" r="5"/><circle cx="1886" cy="952" r="5"/></g>
</g>

<!-- (iii) -->
<rect x="1461" y="1158" width="211" height="202" fill="none" stroke="#333" stroke-width="2.5"/>
<use xlink:href="#ylog" href="#ylog" transform="translate(1461,1279) scale(1,0.98)"/>
<g stroke="#222" stroke-width="2.5"><path d="M1490,1360v-18M1551,1360v-18M1615,1360v-18M1521,1360v-8M1583,1360v-8M1647,1360v-8"/></g>
<g font-size="24" text-anchor="end"><text x="1458" y="1206">10.0</text><text x="1458" y="1288">1.0</text><text x="1458" y="1369">0.1</text></g>
<g font-size="24" text-anchor="middle"><text x="1490" y="1389">50</text><text x="1551" y="1389">70</text><text x="1615" y="1389">100</text></g>
<text x="1560" y="1418" font-size="26" text-anchor="middle" textLength="328" lengthAdjust="spacingAndGlyphs">Adjacent gel thickness (µm)</text>
<text transform="translate(1399,1265) rotate(-90)" font-size="26" text-anchor="middle">N/C of YAP</text>
<text x="1499" y="1192" font-size="25"><tspan font-style="italic">r</tspan><tspan font-size="16" dy="-9">2</tspan><tspan dy="9"> = 0.351</tspan></text>
<g fill="none" stroke-width="1.5">
<g stroke="#ef6868"><circle cx="1469" cy="1248" r="5"/><circle cx="1469" cy="1252" r="5"/><circle cx="1469" cy="1257" r="5"/><circle cx="1573" cy="1260" r="5"/><circle cx="1573" cy="1264" r="5"/><circle cx="1573" cy="1268" r="5"/><circle cx="1573" cy="1273" r="5"/><circle cx="1661" cy="1259" r="5"/><circle cx="1661" cy="1263" r="5"/><circle cx="1661" cy="1267" r="5"/><circle cx="1661" cy="1270" r="5"/></g>
<g stroke="#3fd0c0"><circle cx="1469" cy="1232" r="5"/><circle cx="1469" cy="1236" r="5"/><circle cx="1469" cy="1240" r="5"/><circle cx="1469" cy="1244" r="5"/><circle cx="1573" cy="1238" r="5"/><circle cx="1573" cy="1243" r="5"/><circle cx="1573" cy="1248" r="5"/><circle cx="1573" cy="1253" r="5"/><circle cx="1573" cy="1257" r="5"/><circle cx="1661" cy="1245" r="5"/><circle cx="1661" cy="1249" r="5"/><circle cx="1661" cy="1253" r="5"/><circle cx="1661" cy="1257" r="5"/></g>
</g>
<line x1="1469" y1="1243" x2="1661" y2="1259" stroke="#bbb" stroke-width="7"/>
<line x1="1469" y1="1243" x2="1661" y2="1259" stroke="#333" stroke-width="2.5"/>

<!-- (iv) -->
<rect x="1787" y="1162" width="211" height="201" fill="none" stroke="#333" stroke-width="2.5"/>
<use xlink:href="#ylog" href="#ylog" transform="translate(1787,1283) scale(1,0.98)"/>
<g stroke="#222" stroke-width="2.5"><path d="M1798,1363v-24M1867,1363v-18M1941,1363v-24M1827,1363v-8M1850,1363v-6M1897,1363v-8M1912,1363v-6M1922,1363v-6M1930,1363v-6M1970,1363v-8M1790,1363v-6"/></g>
<g font-size="24" text-anchor="end"><text x="1784" y="1210">10.0</text><text x="1784" y="1292">1.0</text><text x="1784" y="1372">0.1</text></g>
<g font-size="24" text-anchor="middle"><text x="1798" y="1392">250</text><text x="1867" y="1392">750</text><text x="1943" y="1392">2,500</text></g>
<text x="1892" y="1419" font-size="26" text-anchor="middle">Cell area (µm<tspan font-size="17" dy="-9">2</tspan><tspan dy="9">)</tspan></text>
<text transform="translate(1723,1268) rotate(-90)" font-size="26" text-anchor="middle">N/C of YAP</text>
<text x="1811" y="1192" font-size="25"><tspan font-style="italic">r</tspan><tspan font-size="16" dy="-9">2</tspan><tspan dy="9"> = 0.686</tspan></text>
<use xlink:href="#pts1" href="#pts1" transform="translate(333,311)"/>
<line x1="1796" y1="1276" x2="1987" y2="1241" stroke="#bbb" stroke-width="7"/>
<line x1="1796" y1="1276" x2="1987" y2="1241" stroke="#333" stroke-width="2.5"/>
</svg>
</body></html>
